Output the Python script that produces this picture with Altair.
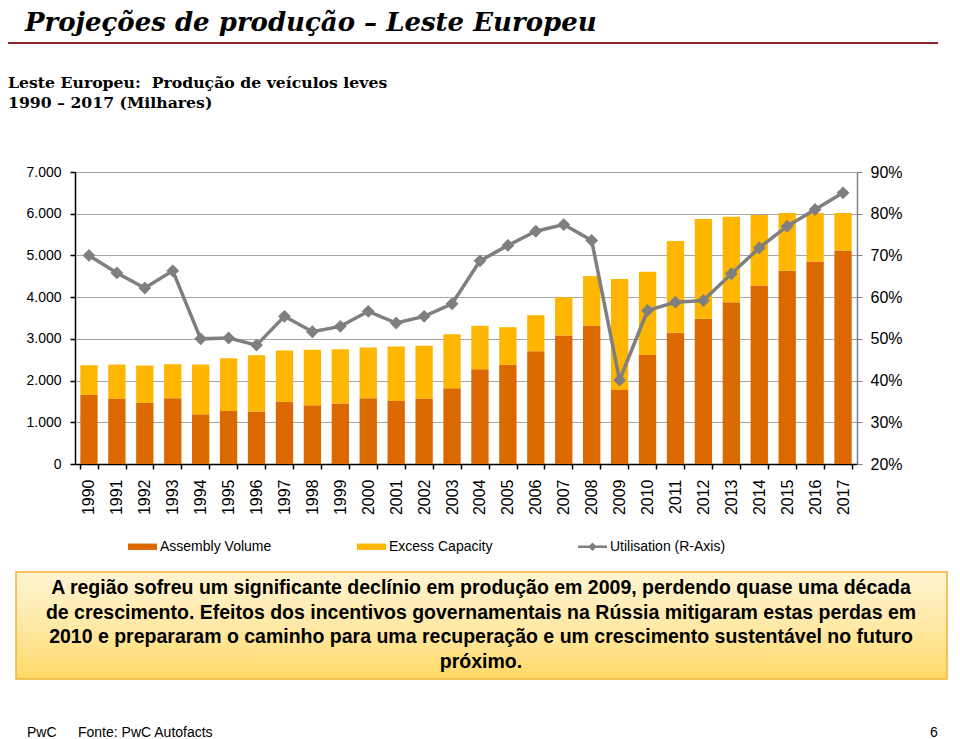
import altair as alt
import pandas as pd

# ---------------- data ----------------
years = [str(y) for y in range(1990, 2018)]
assembly = [1656, 1568, 1464, 1576, 1192, 1272, 1256, 1496, 1408, 1448,
            1576, 1512, 1568, 1816, 2272, 2376, 2704, 3080, 3312, 1776,
            2616, 3144, 3480, 3880, 4280, 4632, 4856, 5120]
excess = [712, 816, 896, 816, 1192, 1264, 1352, 1224, 1328, 1304,
          1216, 1304, 1264, 1296, 1040, 904, 864, 920, 1192, 2656,
          1992, 2200, 2392, 2048, 1688, 1384, 1160, 896]
utilisation = [70.0, 65.8, 62.2, 66.3, 50.0, 50.2, 48.5, 55.4, 51.7, 53.0,
               56.6, 53.8, 55.4, 58.4, 68.7, 72.4, 75.8, 77.4, 73.6, 40.1,
               56.8, 58.8, 59.2, 65.6, 71.8, 77.0, 81.0, 85.0]

series_names = ["Assembly Volume", "Excess Capacity", "Utilisation (R-Axis)"]
series_colors = ["#DC6900", "#FFB600", "#7F7F7F"]

left_ticks = [0, 1000, 2000, 3000, 4000, 5000, 6000, 7000]
right_ticks = [20, 30, 40, 50, 60, 70, 80, 90]

title_text = "Projeções de produção – Leste Europeu"
subtitle_lines = ["Leste Europeu:\u00a0 Produção de veículos leves",
                  "1990 – 2017 (Milhares)"]
note_lines = [
    "A região sofreu um significante declínio em produção em 2009, perdendo quase uma década",
    "de crescimento. Efeitos dos incentivos governamentais na Rússia mitigaram estas perdas em",
    "2010 e prepararam o caminho para uma recuperação e um crescimento sustentável no futuro",
    "próximo.",
]
footer_brand = "PwC"
footer_source = "Fonte: PwC Autofacts"
page_number = "6"

# ---------------- tables ----------------
bar_df = pd.DataFrame({
    "year": years * 2,
    "series": [series_names[0]] * len(years) + [series_names[1]] * len(years),
    "value": assembly + excess,
    "ord": [0] * len(years) + [1] * len(years),
})
util_df = pd.DataFrame({"year": years, "util": utilisation})
legend_df = pd.DataFrame({"series": series_names})
one = pd.DataFrame({"k": [0]})

W, H = 782, 292
SANS = "Liberation Sans"
SERIF = "DejaVu Serif"

rect_path = "M-1,-0.22L1,-0.22L1,0.22L-1,0.22Z"
line_path = "M-1,-0.09L1,-0.09L1,0.09L-1,0.09Z M0,-0.3L0.3,0L0,0.3L-0.3,0Z"

x_enc = alt.X(
    "year:N", sort=years,
    scale=alt.Scale(paddingInner=0.38, paddingOuter=0.19),
    axis=alt.Axis(title=None, labelAngle=-90, labelFontSize=16, labelFont=SANS,
                  labelColor="black", labelPadding=10, tickBand="extent",
                  tickColor="black", tickSize=5, tickWidth=1.5,
                  domainColor="black", domainWidth=1.5, grid=False),
)

bars = alt.Chart(bar_df).mark_bar().encode(
    x=x_enc,
    y=alt.Y("value:Q", stack="zero",
            scale=alt.Scale(domain=[0, 7000], nice=False),
            axis=alt.Axis(values=left_ticks, title=None, grid=True,
                          gridColor="#A6A6A6", gridWidth=1,
                          labelExpr="replace(format(datum.value, ','), ',', '.')",
                          labelFont=SANS, labelFontSize=14, labelColor="black",
                          labelPadding=9, tickColor="black", tickSize=5,
                          tickWidth=1.5, domainColor="black", domainWidth=1.5)),
    color=alt.Color("series:N",
                    scale=alt.Scale(domain=series_names[:2], range=series_colors[:2]),
                    legend=None),
    order=alt.Order("ord:Q"),
)

y_right = alt.Y("util:Q",
                scale=alt.Scale(domain=[20, 90], nice=False, zero=False),
                axis=alt.Axis(orient="right", values=right_ticks, title=None,
                              grid=False, labelExpr="datum.value + '%'",
                              labelFont=SANS, labelFontSize=16, labelColor="black",
                              labelPadding=8, tickColor="#808080", tickSize=5,
                              domainColor="#808080", domainWidth=1.5))
x_plain = alt.X("year:N", sort=years)

line = alt.Chart(util_df).mark_line(color="#7F7F7F", strokeWidth=3.5).encode(
    x=x_plain, y=y_right)
pts = alt.Chart(util_df).mark_point(shape="diamond", filled=True, size=165,
                                    color="#7F7F7F", opacity=1).encode(
    x=x_plain, y=y_right)
util_layer = alt.layer(line, pts)

legend_props = dict(title=None, orient="none", direction="horizontal",
                    legendX=53, legendY=360, symbolSize=841,
                    symbolStrokeWidth=0, labelFont=SANS,
                    labelFontSize=14, labelColor="black",
                    labelOffset=3, columnPadding=85, padding=0,
                    labelLimit=0)

legend_layer = alt.Chart(legend_df).mark_point(filled=True, opacity=1).encode(
    color=alt.Color("series:N",
                    scale=alt.Scale(domain=series_names, range=series_colors),
                    legend=alt.Legend(**legend_props)),
    shape=alt.Shape("series:N",
                    scale=alt.Scale(domain=series_names,
                                    range=[rect_path, rect_path, line_path]),
                    legend=alt.Legend(**legend_props)),
).transform_filter("false")

# ---------------- slide decorations ----------------
def txt(text, x, y, size, font=SANS, weight="normal", style="normal",
        align="left", baseline="alphabetic", color="black", line_height=None):
    kw = dict(fontSize=size, font=font, fontWeight=weight, fontStyle=style,
              align=align, baseline=baseline, color=color)
    if line_height:
        kw["lineHeight"] = line_height
    return alt.Chart(one).mark_text(**kw).encode(
        x=alt.value(x), y=alt.value(y), text=alt.value(text))

title = txt(title_text, -50, -141, 26, font=SERIF, weight="bold", style="italic")
sub = txt(subtitle_lines, -67, -84, 15.7, font=SERIF, weight="bold", line_height=20)

rule_h = alt.Chart(one).mark_rule(color="#8E1F2B", strokeWidth=2).encode(
    x=alt.value(-68), x2=alt.value(863), y=alt.value(-129))
rule_v = alt.Chart(one).mark_rule(color="#8E1F2B", strokeWidth=2).encode(
    x=alt.value(-68), y=alt.value(-129), y2=alt.value(-112))

box = alt.Chart(one).mark_rect(
    fill=alt.Gradient(gradient="linear", x1=0, x2=0, y1=0, y2=1,
                      stops=[alt.GradientStop(color="#FFF4D2", offset=0),
                             alt.GradientStop(color="#FFE9A6", offset=0.5),
                             alt.GradientStop(color="#FFD966", offset=1)]),
    stroke="#F2B233", strokeWidth=1.5,
).encode(x=alt.value(-59), x2=alt.value(872), y=alt.value(400), y2=alt.value(507))

note = txt(note_lines, 406, 416, 19.5, weight="bold", align="center",
           baseline="middle", line_height=24.7)

foot1 = txt(footer_brand, -48, 565, 14)
foot2 = txt(footer_source, 3, 565, 14)
foot3 = txt(page_number, 855, 565, 14)

chart = alt.layer(
    bars, util_layer, legend_layer,
    title, sub, rule_h, rule_v, box, note, foot1, foot2, foot3,
).resolve_scale(y="independent", color="independent", shape="independent").properties(
    width=W, height=H,
    autosize=alt.AutoSizeParams(type="none"),
    padding={"left": 67, "top": 164, "right": 95, "bottom": 275},
    background="white",
).configure_view(stroke=None)

chart.save("out.html", embed_options={"renderer": "svg", "actions": False})
